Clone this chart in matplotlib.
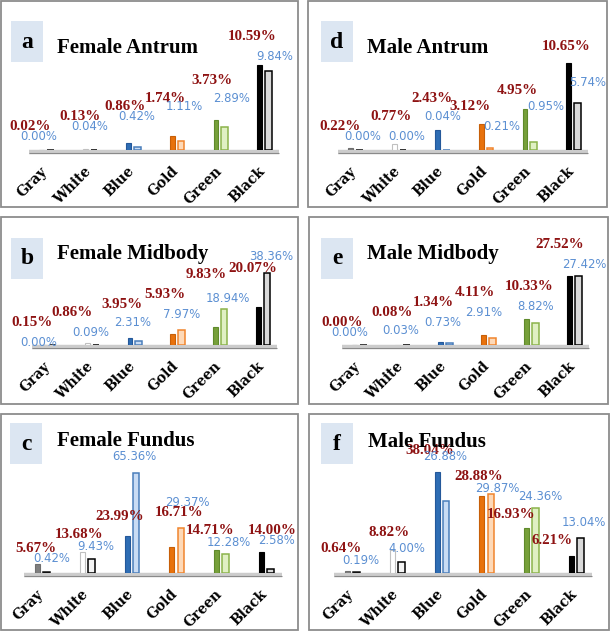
import matplotlib
matplotlib.use("Agg")
import matplotlib.pyplot as plt
from matplotlib.patches import Rectangle
import matplotlib.transforms as mtransforms

# ---------------- data ----------------
categories = ["Gray", "White", "Blue", "Gold", "Green", "Black"]

panel_letters = ["a", "b", "c", "d", "e", "f"]
panel_titles = ["Female Antrum", "Female Midbody", "Female Fundus",
                "Male Antrum", "Male Midbody", "Male Fundus"]

# first (dark red) and second (blue) series per panel, in percent
female_antrum_1 = [0.02, 0.13, 0.86, 1.74, 3.73, 10.59]
female_antrum_2 = [0.00, 0.04, 0.42, 1.11, 2.89, 9.84]
female_midbody_1 = [0.15, 0.86, 3.95, 5.93, 9.83, 20.07]
female_midbody_2 = [0.00, 0.09, 2.31, 7.97, 18.94, 38.36]
female_fundus_1 = [5.67, 13.68, 23.99, 16.71, 14.71, 14.00]
female_fundus_2 = [0.42, 9.43, 65.36, 29.37, 12.28, 2.58]
male_antrum_1 = [0.22, 0.77, 2.43, 3.12, 4.95, 10.65]
male_antrum_2 = [0.00, 0.00, 0.04, 0.21, 0.95, 5.74]
male_midbody_1 = [0.00, 0.08, 1.34, 4.11, 10.33, 27.52]
male_midbody_2 = [0.00, 0.03, 0.73, 2.91, 8.82, 27.42]
male_fundus_1 = [0.64, 8.82, 38.04, 28.88, 16.93, 6.21]
male_fundus_2 = [0.19, 4.00, 26.88, 29.87, 24.36, 13.04]

series_1 = [female_antrum_1, female_midbody_1, female_fundus_1,
            male_antrum_1, male_midbody_1, male_fundus_1]
series_2 = [female_antrum_2, female_midbody_2, female_fundus_2,
            male_antrum_2, male_midbody_2, male_fundus_2]

# ---------------- layout (pixels, top-left origin) ----------------
W, H = 611, 631
DPI = 100
# panel frame x0, y0, x1, y1
frames = [(1, 1, 298, 207), (1, 217, 298, 404), (1, 414, 298, 630),
          (308, 1, 607, 207), (309, 217, 608, 404), (309, 414, 609, 630)]
# first category centre (relative to frame left) and category spacing
cat_start = [45, 48, 41, 47, 50, 43]
cat_step = [43.6, 42.7, 44.8, 43.6, 43.0, 44.8]
baselines = [150, 345, 573, 150, 345, 573]
px_per_unit = [8.0, 1.88, 1.53, 8.2, 2.5, 2.66]
box_pos = [(10, 20), (10, 21), (9, 9), (13, 20), (12, 21), (12, 9)]
title_pos = [(56, 52), (56, 42), (56, 32), (59, 52), (58, 42), (59, 33)]

# label placement relative to the category centre on the floor (pixels)
label_rise_1 = [[24, 33, 43, 52, 70, 113], [23, 33, 41, 51, 70, 77],
                [25, 39, 57, 60, 42, 42], [24, 33, 52, 43, 60, 103],
                [23, 33, 43, 52, 59, 101], [25, 41, 122, 96, 59, 32]]
label_rise_2 = [[13, 24, 33, 43, 52, 93], [3, 13, 22, 30, 46, 89],
                [14, 27, 116, 70, 31, 32], [13, 13, 33, 24, 43, 68],
                [12, 14, 23, 33, 39, 81], [13, 24, 116, 85, 76, 51]]
label_shift_1 = [[-16, -10, -8, -11, -8, -12], [-17, -20, -12, -12, -14, -10],
                 [-6, -8, -12, 3, -11, 6], [-15, -8, -10, -16, -12, -7],
                 [-17, -10, -12, -13, -2, -14], [-11, -8, -12, -8, -20, -24]]
label_shift_2 = [[-7, 0, 3, 7, 11, 11], [-10, -1, -2, 5, 8, 9],
                 [10, 9, 3, 11, 8, 11], [8, 8, 0, 16, 16, 15],
                 [-9, -1, -2, -4, 5, 10], [9, 10, 4, 11, 9, 8]]

# ---------------- styles ----------------
fill_1 = ["#7f7f7f", "#ffffff", "#2e6db4", "#e8720c", "#77a03a", "#000000"]
edge_1 = ["#6f6f6f", "#c0c0c0", "#24589a", "#c75f08", "#5f8a2b", "#000000"]
fill_2 = ["#262626", "#f4f4f4", "#c9dcf4", "#fdd9b8", "#e0f0c3", "#d9d9d9"]
edge_2 = ["#111111", "#000000", "#4a7ebb", "#f0852d", "#8bb34a", "#000000"]
RED = "#8e1212"
BLUE = "#5b8fd2"
BOX = "#dce6f2"
FRAME = "#8c8c8c"

fig = plt.figure(figsize=(W / DPI, H / DPI), dpi=DPI)
fig.patch.set_facecolor("white")


def fx(x):
    return x / W


def fy(y):
    return 1 - y / H


PT = 72.0 / DPI  # points per pixel

for k in range(6):
    x0, y0, x1, y1 = frames[k]
    # frame
    fig.patches.append(Rectangle((fx(x0), fy(y1)), fx(x1 - x0), (y1 - y0) / H,
                                 transform=fig.transFigure, fill=False,
                                 edgecolor=FRAME, linewidth=1.3))
    # letter box
    bx, by = box_pos[k]
    fig.patches.append(Rectangle((fx(x0 + bx), fy(y0 + by + 41)), 32 / W, 41 / H,
                                 transform=fig.transFigure, facecolor=BOX,
                                 edgecolor="none"))
    fig.text(fx(x0 + bx + 16), fy(y0 + by + 21), panel_letters[k],
             ha="center", va="center", fontsize=17, fontweight="bold",
             family="Liberation Serif", color="black")
    tx, ty = title_pos[k]
    fig.text(fx(x0 + tx), fy(y0 + ty), panel_titles[k], ha="left",
             va="baseline", fontsize=15, fontweight="bold",
             family="Liberation Serif", color="black")

    # axes
    step = cat_step[k]
    left_px = x0 + cat_start[k] - 0.4 * step
    width_px = 5.75 * step
    ax_h = 120
    ax = fig.add_axes([fx(left_px), fy(baselines[k]), width_px / W, ax_h / H])
    ax.set_xlim(-0.4, 5.35)
    ax.set_ylim(0, ax_h / px_per_unit[k])
    ax.axis("off")

    xs = list(range(len(categories)))
    x1s = [x - 0.1 for x in xs]
    x2s = [x + 0.1 for x in xs]

    # floor
    off1 = mtransforms.ScaledTranslation(0, -1.5 / DPI, fig.dpi_scale_trans)
    ax.plot([0, 1], [0, 0], color="#cccccc", linewidth=3.2, zorder=1,
            transform=ax.get_yaxis_transform() + off1, clip_on=False,
            solid_capstyle="butt")
    off2 = mtransforms.ScaledTranslation(0, -3.2 / DPI, fig.dpi_scale_trans)
    ax.plot([0, 1], [0, 0], color="#8a8a8a", linewidth=0.8, zorder=1,
            transform=ax.get_yaxis_transform() + off2, clip_on=False,
            solid_capstyle="butt")

    ax.bar(x1s, series_1[k], width=0.11, color=fill_1, edgecolor=edge_1,
           linewidth=0.8, zorder=3)
    ax.bar(x2s, series_2[k], width=0.15, color=fill_2, edgecolor=edge_2,
           linewidth=1.1, zorder=3)

    for i in xs:
        ax.annotate(f"{series_1[k][i]:.2f}%", xy=(xs[i], 0),
                    xytext=(label_shift_1[k][i] * PT, label_rise_1[k][i] * PT),
                    textcoords="offset points", ha="center", va="center",
                    fontsize=10.8, fontweight="bold", family="Liberation Serif",
                    color=RED, annotation_clip=False, zorder=5)
        ax.annotate(f"{series_2[k][i]:.2f}%", xy=(xs[i], 0),
                    xytext=(label_shift_2[k][i] * PT, label_rise_2[k][i] * PT),
                    textcoords="offset points", ha="center", va="center",
                    fontsize=8.4, family="DejaVu Sans", color=BLUE,
                    annotation_clip=False, zorder=6)
        ax.annotate(categories[i], xy=(xs[i], 0),
                    xytext=(-1 * PT, -19 * PT), textcoords="offset points",
                    ha="right", va="center", rotation=45,
                    rotation_mode="anchor", fontsize=10, fontweight="bold",
                    family="DejaVu Serif", color="black",
                    annotation_clip=False)

fig.savefig("out.png", dpi=DPI, facecolor="white")
